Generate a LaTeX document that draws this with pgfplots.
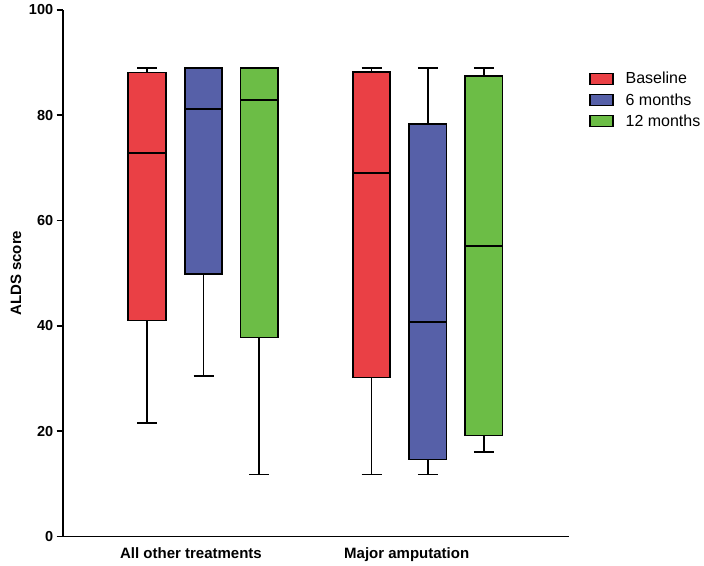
\documentclass[border=0pt]{standalone}
\usepackage{pgfplots}
\pgfplotsset{compat=1.18}
\usepackage{fontspec}
\setmainfont{Liberation Sans}
\definecolor{cred}{RGB}{234,64,69}
\definecolor{cblue}{RGB}{86,96,168}
\definecolor{cgreen}{RGB}{108,189,70}
\pgfplotsset{boxlegend/.style={legend image code/.code={\draw[##1] (0pt,-5.5pt) rectangle (23pt,5.5pt);}}}
% #1 position, #2 lower whisker, #3 lower quartile, #4 median, #5 upper quartile, #6 upper whisker, #7 colour
\newcommand{\mybox}[7]{%
  \pgfmathsetmacro{\myboxL}{#1-18.75}%
  \pgfmathsetmacro{\myboxR}{#1+18.75}%
  \pgfmathsetmacro{\mycapL}{#1-10}%
  \pgfmathsetmacro{\mycapR}{#1+10}%
  \addplot[black, line width=1.8pt] coordinates {(#1,#2) (#1,#3)};
  \addplot[black, line width=1.7pt] coordinates {(\mycapL,#2) (\mycapR,#2)};
  \addplot[black, line width=1.8pt] coordinates {(#1,#5) (#1,#6)};
  \addplot[black, line width=1.7pt] coordinates {(\mycapL,#6) (\mycapR,#6)};
  \addplot[fill=#7, draw=black, line width=1.7pt, line join=miter] coordinates {(\myboxL,#3) (\myboxR,#3) (\myboxR,#5) (\myboxL,#5) (\myboxL,#3)} -- cycle;
  \addplot[black, line width=1.7pt] coordinates {(\myboxL,#4) (\myboxR,#4)};
}
\begin{document}
\begin{tikzpicture}
\begin{axis}[
  at={(62.7pt,28.5pt)}, anchor=south west,
  scale only axis, width=506.3pt, height=526.5pt,
  xmin=62.7, xmax=569, ymin=0, ymax=100,
  axis lines=left, axis line style={line width=1.8pt, -},
  ytick={0,20,40,60,80,100},
  xtick={191,406.7},
  xticklabels={All other treatments, Major amputation},
  xtick style={draw=none},
  ytick style={line width=1.6pt, black},
  tick align=outside, major tick length=6pt,
  /pgf/number format/assume math mode=true,
  yticklabel style={font=\fontsize{14.5}{16}\selectfont\bfseries},
  xticklabel style={font=\fontsize{15}{17}\selectfont\bfseries, inner sep=0pt, anchor=north, yshift=-4.5pt},
  ylabel={ALDS score},
  every axis y label/.style={at={(axis description cs:-0.0922,0.5)}, rotate=90, anchor=center, font=\fontsize{15}{17}\selectfont\bfseries},
  legend style={at={(axis description cs:1.0395,0.882)}, anchor=north west, draw=none, fill=none, inner sep=0pt, font=\fontsize{16}{18}\selectfont, row sep=8pt, nodes={inner sep=0pt, anchor=west}},
  /tikz/every odd column/.append style={column sep=12pt},
  legend cell align=left,
  clip=false,
]
\addlegendimage{boxlegend, fill=cred, draw=black, line width=1.4pt}
\addlegendentry{Baseline}
\addlegendimage{boxlegend, fill=cblue, draw=black, line width=1.4pt}
\addlegendentry{6 months}
\addlegendimage{boxlegend, fill=cgreen, draw=black, line width=1.4pt}
\addlegendentry{12 months}
\mybox{147}{21.6}{41.0}{72.8}{88.1}{89.0}{cred}
\mybox{203.5}{30.5}{49.8}{81.2}{89.0}{89.0}{cblue}
\mybox{259.3}{11.8}{37.8}{82.9}{89.0}{89.0}{cgreen}
\mybox{371.5}{11.8}{30.2}{69.0}{88.2}{89.0}{cred}
\mybox{427.8}{11.8}{14.6}{40.7}{78.3}{89.0}{cblue}
\mybox{483.8}{16.1}{19.2}{55.2}{87.5}{89.0}{cgreen}
\end{axis}
\pgfresetboundingbox
\path[use as bounding box] (0,0) rectangle (704pt,565pt);
\end{tikzpicture}
\end{document}
